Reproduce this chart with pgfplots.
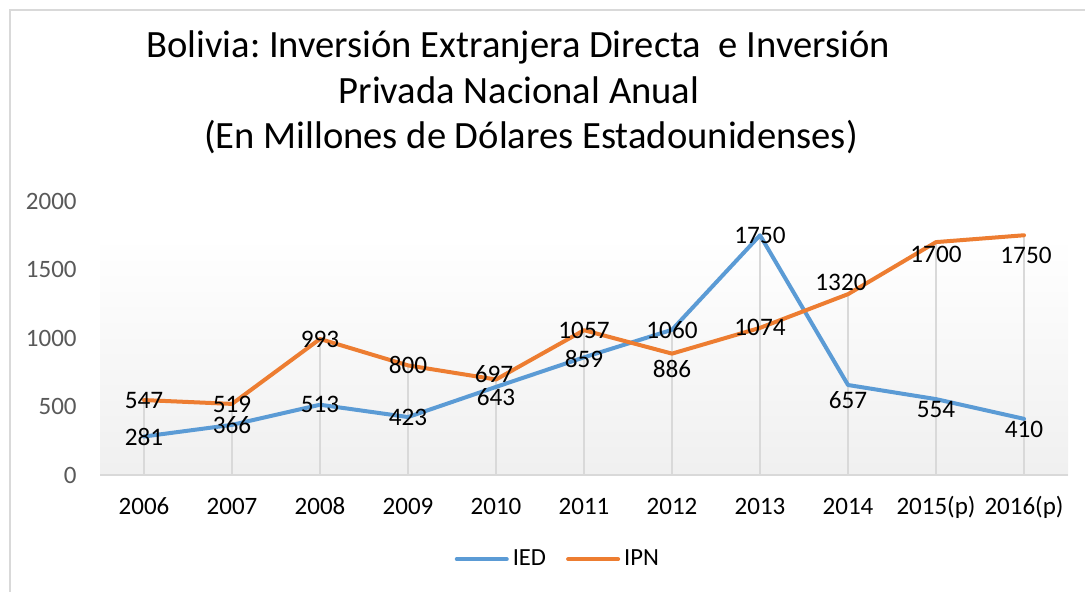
\documentclass[border=0pt]{standalone}
\usepackage{pgfplots}
\pgfplotsset{compat=1.18}
\usepackage{pgfplotstable}
\usepackage{fontspec}
\setmainfont{Carlito}
\frenchspacing
\definecolor{iedc}{HTML}{5B9BD5}
\definecolor{ipnc}{HTML}{ED7D31}
\definecolor{gridc}{HTML}{D9D9D9}
\definecolor{tickc}{HTML}{595959}

\pgfplotstableread{
x y dx dy
0 281 0 0
1 366 0 0
2 513 0 0
3 423 0 0
4 643 0 -5
5 859 0 -1
6 1060 0 0
7 1750 0 0
8 657 0 -7.5
9 554 0 -5
10 410 0 -5.5
}\ied

\pgfplotstableread{
x y dx dy
0 547 0 0
1 519 0 -0.5
2 993 0 0
3 800 0 0
4 697 -1 2.5
5 1057 0 0
6 886 0 -7.5
7 1074 0 0
8 1320 -3.5 6
9 1700 0 -6
10 1750 1 -10
}\ipn

% highest of the two series at each year (drop lines)
\pgfplotstableread{
x y
0 547
1 519
2 993
3 800
4 697
5 1057
6 1060
7 1750
8 1320
9 1700
10 1750
}\drop

\begin{document}
\begin{tikzpicture}
\useasboundingbox (0,0) rectangle (542.5pt,295.5pt);
\draw[gridc, line width=0.75pt] (5pt,-2pt) -- (5pt,290.5pt) -- (545pt,290.5pt);
\node[anchor=base, font=\fontsize{19.3}{22}\selectfont] at (259pt,267pt) {Bolivia: Inversión Extranjera Directa\ \ e Inversión};
\node[anchor=base, font=\fontsize{19.3}{22}\selectfont] at (259.5pt,244pt) {Privada Nacional Anual};
\node[anchor=base, font=\fontsize{19.3}{22}\selectfont] at (265.5pt,221.5pt) {(En Millones de Dólares Estadounidenses)};
\begin{axis}[
  at={(50pt,58pt)}, anchor=south west,
  scale only axis, width=484pt, height=137pt,
  xmin=-0.5, xmax=10.5, ymin=0, ymax=2000,
  xtick={0,...,10},
  xticklabels={2006,2007,2008,2009,2010,2011,2012,2013,2014,2015(p),2016(p)},
  ytick={0,500,1000,1500,2000},
  major tick length=0pt,
  axis line style={draw=none},
  /pgf/number format/assume math mode=true,
  /pgf/number format/1000 sep={},
  ticklabel style={font=\fontsize{12.5}{14}\selectfont},
  xticklabel style={anchor=base, yshift=-19.5pt, text=black},
  yticklabel style={anchor=east, inner sep=0pt, xshift=-11.5pt, text=tickc},
  legend style={at={(axis description cs:0.474,-0.307)}, anchor=center, draw=none, fill=none,
    font=\fontsize{12.3}{14}\selectfont, legend columns=2,
    /tikz/every even column/.append style={column sep=8pt}},
  legend image code/.code={\draw[#1, line width=2pt, line cap=round] (0pt,0pt) -- (25pt,0pt);},
  clip=false,
]
\fill[top color=white, bottom color=black!6] (axis cs:-0.5,0) rectangle (axis cs:10.5,1737);
\draw[gridc, line width=1pt] (rel axis cs:0,0) -- (rel axis cs:1,0);
\addplot[gridc, line width=0.75pt, ycomb, forget plot] table[x=x,y=y] {\drop};
\addplot[iedc, line width=2pt, line join=round, line cap=round] table[x=x,y=y] {\ied};
\addlegendentry{IED}
\addplot[ipnc, line width=2pt, line join=round, line cap=round] table[x=x,y=y] {\ipn};
\addlegendentry{IPN}
\addplot[draw=none, forget plot, nodes near coords, point meta=explicit symbolic,
  visualization depends on={\thisrow{dx} \as \dx},
  visualization depends on={\thisrow{dy} \as \dy},
  every node near coord/.append style={anchor=center, text=black, xshift=\dx pt, yshift=\dy pt,
    font=\fontsize{12.6}{15}\selectfont}] table[x=x,y=y,meta=y] {\ied};
\addplot[draw=none, forget plot, nodes near coords, point meta=explicit symbolic,
  visualization depends on={\thisrow{dx} \as \dx},
  visualization depends on={\thisrow{dy} \as \dy},
  every node near coord/.append style={anchor=center, text=black, xshift=\dx pt, yshift=\dy pt,
    font=\fontsize{12.6}{15}\selectfont}] table[x=x,y=y,meta=y] {\ipn};
\end{axis}
\end{tikzpicture}
\end{document}
